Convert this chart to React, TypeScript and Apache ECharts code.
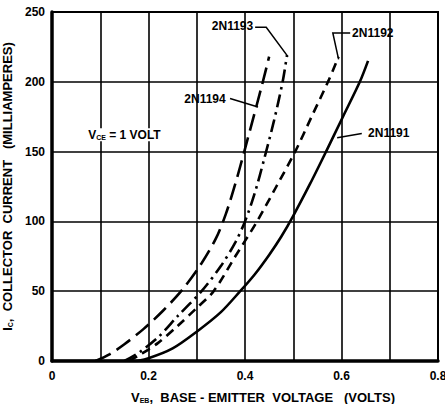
import React, { useEffect, useRef } from "react";
import * as echarts from "echarts";

// 2N1191 (solid)
const v1191 = [0.0, 0.17, 0.2, 0.25, 0.3, 0.35, 0.39, 0.42, 0.45, 0.475, 0.5, 0.535, 0.568, 0.603, 0.638, 0.655];
const i1191 = [0, 0, 2, 9, 21, 35, 50, 62, 76, 89, 104, 127, 150, 175, 200, 215];
// 2N1192 (dashed)
const v1192 = [0.16, 0.18, 0.22, 0.26, 0.3, 0.335, 0.38, 0.425, 0.465, 0.504, 0.538, 0.572, 0.594];
const i1192 = [0, 4, 13, 25, 38, 50, 75, 100, 125, 150, 175, 200, 218];
// 2N1193 (dash-dot)
const v1193 = [0.15, 0.18, 0.22, 0.26, 0.31, 0.35, 0.38, 0.4, 0.42, 0.44, 0.46, 0.478, 0.487];
const i1193 = [0, 6, 17, 32, 50, 68, 85, 100, 120, 145, 172, 200, 219];
// 2N1194 (long dash)
const v1194 = [0.09, 0.12, 0.15, 0.19, 0.23, 0.27, 0.31, 0.34, 0.36, 0.38, 0.4, 0.437, 0.45];
const i1194 = [0, 5, 12, 23, 36, 51, 70, 88, 105, 127, 152, 200, 218];

const xTicks = [0, 0.2, 0.4, 0.6, 0.8];

const FONT = "'Liberation Sans', Arial, sans-serif";

const pairs = (xs: number[], ys: number[]) => xs.map((x, k) => [x, ys[k]]);

// annotation anchors in data coordinates
const labels = [
  { text: "2N1193", at: [0.417, 240], align: "right" },
  { text: "2N1194", at: [0.36, 188], align: "right" },
  { text: "2N1192", at: [0.622, 235], align: "left" },
  { text: "2N1191", at: [0.655, 163], align: "left" },
];
const leaders = [
  [[0.421, 239], [0.444, 239], [0.489, 218]],
  [[0.369, 188], [0.427, 182]],
  [[0.618, 235], [0.582, 235], [0.594, 216]],
  [[0.642, 163], [0.591, 160]],
];

export default function App() {
  const ref = useRef<HTMLDivElement>(null);
  useEffect(() => {
    if (!ref.current) return;
    const chart = echarts.init(ref.current, null, { renderer: "svg" });
    const lw = 2.6;
    const mk = (name: string, data: number[][], type: any) => ({
      name,
      type: "line",
      data,
      smooth: 0.3,
      symbol: "none",
      lineStyle: { color: "#000", width: lw, type, cap: "butt" },
      z: 5,
    });
    chart.setOption({
      animation: false,
      backgroundColor: "#fff",
      grid: {
        left: 52,
        right: 7,
        top: 12,
        bottom: 43,
        containLabel: false,
        outerBoundsMode: "none",
        show: true,
        borderColor: "#000",
        borderWidth: 2,
      },
      xAxis: {
        type: "value",
        min: 0,
        max: 0.8,
        interval: 0.1,
        axisLine: { show: true, onZero: false, lineStyle: { color: "#000", width: 3.5 } },
        axisTick: { show: false },
        splitLine: { show: true, lineStyle: { color: "#000", width: 1.6 } },
        axisLabel: {
          color: "#000",
          fontFamily: FONT,
          fontWeight: "bold",
          fontSize: 12,
          margin: 9,
          formatter: (v: number) => {
            const r = Math.round(v * 10) / 10;
            if (!xTicks.some((t) => Math.abs(t - r) < 1e-6)) return "";
            return r === 0 ? "0" : r.toFixed(1);
          },
        },
        name: "{v|V}{s|EB}{n|,  BASE - EMITTER  VOLTAGE   (VOLTS)}",
        nameLocation: "middle",
        nameGap: 30,
        nameTextStyle: {
          padding: [0, 0, 0, 36],
          rich: {
            v: { fontFamily: FONT, fontWeight: "bold", fontSize: 13, color: "#000" },
            s: { fontFamily: FONT, fontWeight: "bold", fontSize: 7, color: "#000", padding: [6, 0, 0, 0] },
            n: { fontFamily: FONT, fontWeight: "bold", fontSize: 13, color: "#000" },
          },
        },
      },
      yAxis: {
        type: "value",
        min: 0,
        max: 250,
        interval: 50,
        axisLine: { show: true, onZero: false, lineStyle: { color: "#000", width: 3.5 } },
        axisTick: { show: false },
        splitLine: { show: true, lineStyle: { color: "#000", width: 1.6 } },
        axisLabel: { color: "#000", fontFamily: FONT, fontWeight: "bold", fontSize: 12, margin: 7 },
        name: "{v|I}{s|C}{n|,  COLLECTOR  CURRENT   (MILLIAMPERES)}",
        nameLocation: "middle",
        nameGap: 37,
        nameTextStyle: {
          rich: {
            v: { fontFamily: FONT, fontWeight: "bold", fontSize: 13, color: "#000" },
            s: { fontFamily: FONT, fontWeight: "bold", fontSize: 7, color: "#000", padding: [6, 0, 0, 0] },
            n: { fontFamily: FONT, fontWeight: "bold", fontSize: 13, color: "#000" },
          },
        },
      },
      series: [
        mk("2N1191", pairs(v1191, i1191), "solid"),
        mk("2N1192", pairs(v1192, i1192), [9, 6]),
        mk("2N1193", pairs(v1193, i1193), [13, 5, 2.5, 5]),
        mk("2N1194", pairs(v1194, i1194), [17, 7]),
      ],
    });
    const px = (p: number[]) => chart.convertToPixel({ gridIndex: 0 }, p) as number[];
    const graphic: any[] = [];
    labels.forEach((l) => {
      const p = px(l.at);
      graphic.push({
        type: "text",
        x: p[0],
        y: p[1],
        style: {
          text: l.text,
          fill: "#000",
          font: `bold 12px ${FONT}`,
          align: l.align,
          verticalAlign: "middle",
        },
        z: 10,
      });
    });
    leaders.forEach((pts) => {
      graphic.push({
        type: "polyline",
        shape: { points: pts.map(px) },
        style: { stroke: "#000", lineWidth: 1.5, fill: null },
        z: 10,
      });
    });
    const vp = px([0.075, 162]);
    graphic.push({
      type: "text",
      x: vp[0],
      y: vp[1],
      style: {
        text: "{v|V}{s|CE}{n| = 1 VOLT}",
        verticalAlign: "middle",
        rich: {
          v: { fontFamily: FONT, fontWeight: "bold", fontSize: 12, fill: "#000" },
          s: { fontFamily: FONT, fontWeight: "bold", fontSize: 7, fill: "#000", padding: [6, 0, 0, 0] },
          n: { fontFamily: FONT, fontWeight: "bold", fontSize: 12, fill: "#000" },
        },
        backgroundColor: "#fff",
      },
      z: 10,
    });
    chart.setOption({ graphic });
    return () => chart.dispose();
  }, []);
  return <div ref={ref} style={{ width: 445, height: 404, position: "absolute", left: 0, top: 0 }} />;
}
